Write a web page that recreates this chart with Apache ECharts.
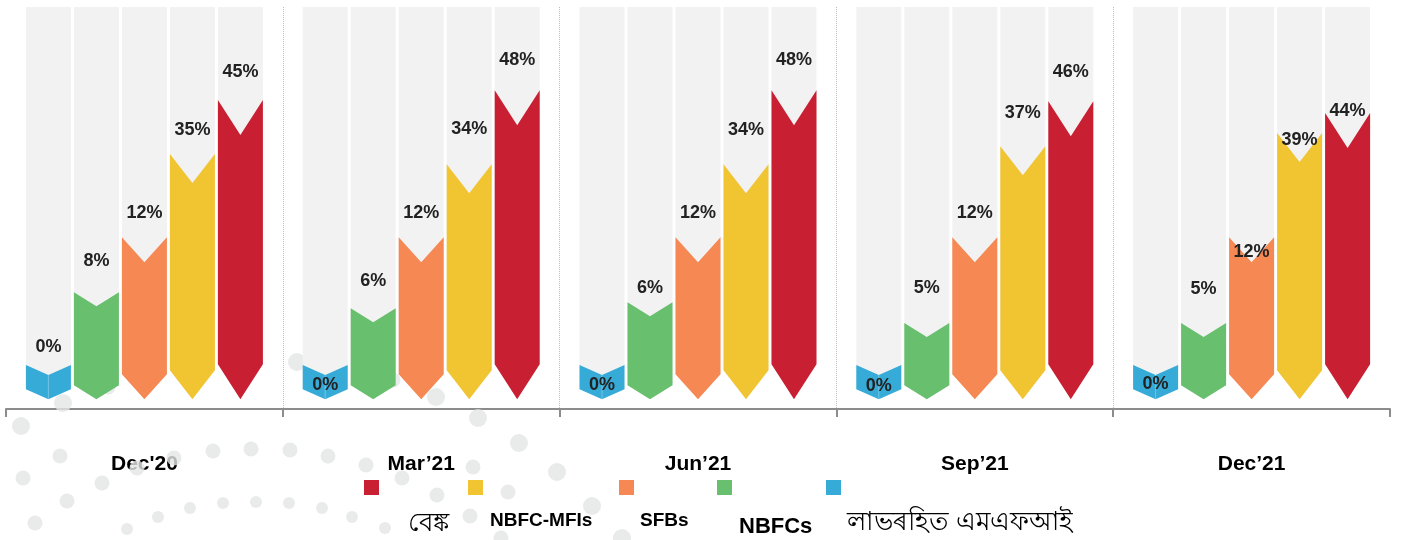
<!DOCTYPE html>
<html>
<head>
<meta charset="utf-8">
<script src="https://cdn.jsdelivr.net/npm/echarts@6/dist/echarts.min.js"></script>
<style>
  html, body { margin: 0; padding: 0; background: #fff; }
  #chart { width: 1401px; height: 540px; }
</style>
</head>
<body>
<div id="chart"></div>
<script>
// quarters on the x axis
const periods = ["Dec'20", 'Mar’21', 'Jun’21', 'Sep’21', 'Dec’21']

// shares printed on the chevrons (%)
const bankShare = [45, 48, 48, 46, 44]
const nbfcMfiShare = [35, 34, 34, 37, 39]
const sfbShare = [12, 12, 12, 12, 12]
const nbfcShare = [8, 6, 6, 5, 5]
const ngoShare = [0, 0, 0, 0, 0]

// chevron lengths as drawn (graphic is not to scale), % of the grey column
const bankLen = [76.3, 78.8, 78.8, 76.0, 73.0]
const nbfcMfiLen = [62.5, 59.9, 59.9, 64.5, 67.9]
const sfbLen = [41.3, 41.3, 41.3, 41.3, 41.3]
const nbfcLen = [27.3, 23.2, 24.7, 19.4, 19.4]
const ngoLen = [8.7, 8.7, 8.7, 8.7, 8.7]

// decorative dots in the background (page pixels)
const bigDotX = [297, 436, 478, 519, 557, 592, 622, 63, 21]
const bigDotY = [362, 397, 418, 443, 472, 506, 538, 403, 426]
const midDotX = [60, 23, 67, 102, 137, 174, 213, 251, 290, 328, 366, 402, 437, 473, 508, 35, 108, 393, 501, 470, 97]
const midDotY = [456, 478, 501, 483, 468, 458, 451, 449, 450, 456, 465, 478, 495, 467, 492, 523, 387, 380, 538, 516, 541]
const smallDotX = [127, 158, 190, 223, 256, 289, 322, 352, 385]
const smallDotY = [529, 517, 508, 503, 502, 503, 508, 517, 528]

const FONT = 'Liberation Sans, Arial, sans-serif'

// label centre distance above the top shoulder (px), per quarter
const labelGap = {
  bank: [28, 30, 30, 29, 2],
  mfi: [24, 35, 34, 33, -7],
  sfb: [24, 24, 24, 24, -15],
  nbfc: [31, 27, 14, 35, 34],
  ngo: [18, -20, -20, -21, -19]
}

function chevron(slot, depth, gaps, fold) {
  return function (params, api) {
    const i = api.value(0)
    const band = api.size([1, 0])[0]
    const base = api.coord([i, 0])
    const cx = base[0] + (slot - 2) * band * 0.1734
    const half = band * 0.1626 / 2
    const x0 = cx - half
    const x1 = cx + half
    const yBot = base[1]
    const yTop = api.coord([i, api.value(1)])[1]
    const yCol = api.coord([i, 100])[1]
    const children = [
      {
        type: 'rect',
        shape: { x: x0, y: yCol, width: x1 - x0, height: yBot - depth - yCol },
        style: { fill: '#f2f2f2' }
      },
      {
        type: 'polygon',
        shape: {
          points: [[x0, yTop], [cx, yTop + depth], [x1, yTop], [x1, yBot - depth], [cx, yBot], [x0, yBot - depth]]
        },
        style: { fill: api.visual('color') }
      }
    ]
    if (fold) {
      children.push({
        type: 'line',
        shape: { x1: cx, y1: yTop + depth, x2: cx, y2: yBot },
        style: { stroke: 'rgba(255,255,255,0.3)', lineWidth: 1 }
      })
    }
    children.push({
      type: 'text',
      x: cx,
      y: yTop - gaps[params.dataIndex],
      style: {
        text: api.value(2) + '%',
        fill: '#222',
        font: 'bold 18px ' + FONT,
        align: 'center',
        verticalAlign: 'middle'
      }
    })
    return { type: 'group', children: children }
  }
}

function rows(len, share) {
  return periods.map((p, i) => [i, len[i], share[i]])
}

function dots(xs, ys) {
  return xs.map((x, i) => [x, ys[i]])
}

// legend text sits on a second line, below and right of its swatch
function legendItem(name, left, drop, fontSize, weight, padLeft) {
  return {
    data: [name],
    left: left,
    top: 487.5 - drop,
    padding: 0,
    icon: 'rect',
    itemWidth: 15,
    itemHeight: 15,
    selectedMode: false,
    formatter: '\n{name}',
    textStyle: {
      fontFamily: FONT,
      fontSize: fontSize,
      fontWeight: weight,
      color: '#000',
      lineHeight: drop,
      padding: [0, 0, 0, padLeft]
    }
  }
}

const chart = echarts.init(document.getElementById('chart'))

chart.setOption({
  animation: false,
  backgroundColor: '#fff',
  grid: [
    { left: 6, right: 11, top: 7, bottom: 131 },
    { left: 0, right: 0, top: 0, bottom: 0 }
  ],
  legend: [
    legendItem('বেঙ্ক', 364, 72, 26, 'normal', 24),
    legendItem('NBFC-MFIs', 468, 67, 19, 'bold', 2),
    legendItem('SFBs', 619, 67, 19, 'bold', 1),
    legendItem('NBFCs', 717, 79, 22, 'bold', 2),
    legendItem('লাভৰহিত এমএফআই', 826, 71, 26, 'normal', 1)
  ],
  xAxis: [
    {
      type: 'category',
      gridIndex: 0,
      data: periods,
      axisLine: { show: true, onZero: false, lineStyle: { color: '#8c8c8c', width: 2 } },
      axisTick: { show: true, inside: false, length: 8, lineStyle: { color: '#8c8c8c', width: 2 } },
      axisLabel: { fontFamily: FONT, fontSize: 21, fontWeight: 'bold', color: '#000', margin: 45 },
      splitLine: {
        show: true,
        showMinLine: false,
        showMaxLine: false,
        lineStyle: { type: 'dotted', color: '#bdbdbd', width: 1 }
      }
    },
    { type: 'value', gridIndex: 1, min: 0, max: 1401, show: false }
  ],
  yAxis: [
    { type: 'value', gridIndex: 0, min: -2.5, max: 100, show: false },
    { type: 'value', gridIndex: 1, min: 0, max: 540, inverse: true, show: false }
  ],
  series: [
    {
      type: 'scatter', xAxisIndex: 1, yAxisIndex: 1, silent: true, z: 0,
      symbolSize: 18, itemStyle: { color: '#e4e5e5' }, data: dots(bigDotX, bigDotY)
    },
    {
      type: 'scatter', xAxisIndex: 1, yAxisIndex: 1, silent: true, z: 0,
      symbolSize: 15, itemStyle: { color: '#e4e5e5' }, data: dots(midDotX, midDotY)
    },
    {
      type: 'scatter', xAxisIndex: 1, yAxisIndex: 1, silent: true, z: 0,
      symbolSize: 12, itemStyle: { color: '#e4e5e5' }, data: dots(smallDotX, smallDotY)
    },
    {
      name: 'লাভৰহিত এমএফআই', type: 'custom', itemStyle: { color: '#37abd8' },
      renderItem: chevron(0, 10, labelGap.ngo, true), data: rows(ngoLen, ngoShare)
    },
    {
      name: 'NBFCs', type: 'custom', itemStyle: { color: '#68bf6e' },
      renderItem: chevron(1, 14, labelGap.nbfc, false), data: rows(nbfcLen, nbfcShare)
    },
    {
      name: 'SFBs', type: 'custom', itemStyle: { color: '#f58853' },
      renderItem: chevron(2, 25, labelGap.sfb, false), data: rows(sfbLen, sfbShare)
    },
    {
      name: 'NBFC-MFIs', type: 'custom', itemStyle: { color: '#f1c432' },
      renderItem: chevron(3, 29, labelGap.mfi, false), data: rows(nbfcMfiLen, nbfcMfiShare)
    },
    {
      name: 'বেঙ্ক', type: 'custom', itemStyle: { color: '#c81f32' },
      renderItem: chevron(4, 35, labelGap.bank, false), data: rows(bankLen, bankShare)
    }
  ]
})
</script>
</body>
</html>
